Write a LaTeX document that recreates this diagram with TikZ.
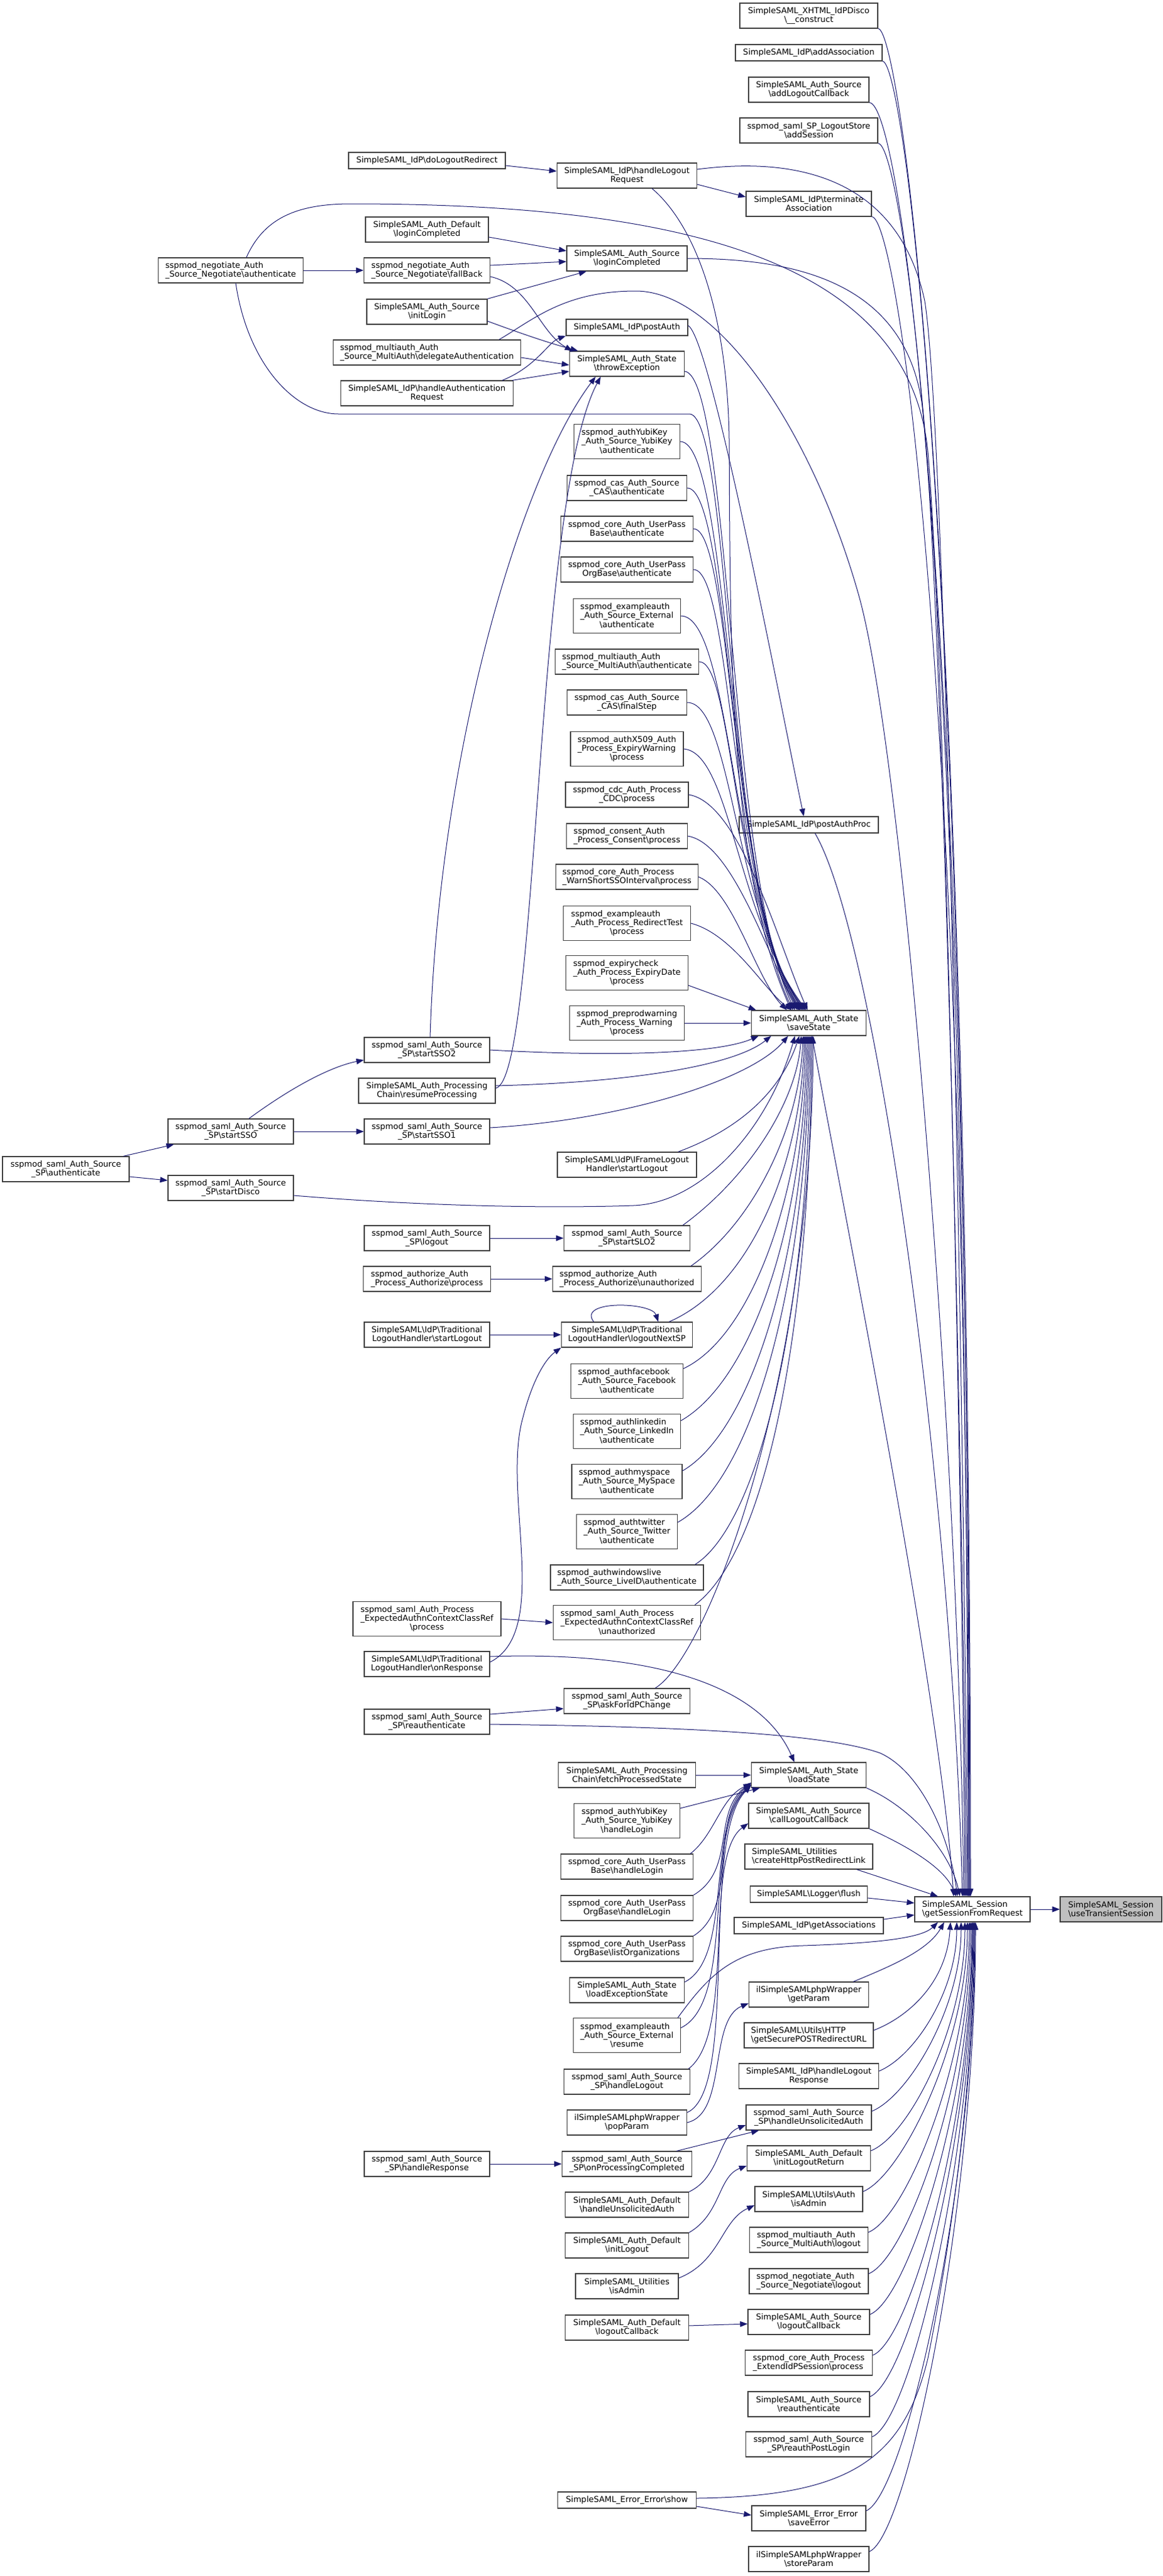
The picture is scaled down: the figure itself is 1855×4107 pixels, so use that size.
\documentclass[tikz,border=0pt]{standalone}
\usepackage{fontspec}
\newfontfamily\dejavu{DejaVu Sans}
\usetikzlibrary{arrows.meta,calc}

\definecolor{edgeblue}{HTML}{191970}
\definecolor{framegray}{HTML}{404040}
\definecolor{focusgray}{HTML}{BFBFBF}
\newcommand{\cgfont}{\dejavu\fontsize{13pt}{14pt}\selectfont}
\newcommand{\bsl}{\textbackslash}
\newcommand{\twol}[2]{\begin{tabular}{@{}l@{}}#1\\#2\end{tabular}}

\begin{document}
\begin{tikzpicture}[x=1pt, y=1pt,
  fn/.style={rectangle, draw=framegray, line width=1.2pt, fill=white, align=center, font=\cgfont, inner xsep=4pt, inner ysep=2pt, minimum height=40pt},
  fnl/.style={fn, align=left},
  one/.style={minimum height=26pt},
  three/.style={minimum height=55pt},
  arr/.style={-{Triangle[length=12pt, width=9pt]}, draw=edgeblue, line width=1pt}
]
\useasboundingbox (0,0) rectangle (1855,-4107);

% Target and its caller
\node[fnl, minimum width=184pt] (sessreq) at (1551,-3044) {SimpleSAML\_Session\\\bsl getSessionFromRequest};
\node[fnl, fill=focusgray, minimum width=162pt] (transient) at (1772,-3044) {SimpleSAML\_Session\\\bsl useTransientSession};
\draw[arr] (sessreq) -- (transient);

% Direct callers of getSessionFromRequest
\node[fn, minimum width=220pt] (idpdisco) at (1290,-25) {SimpleSAML\_XHTML\_IdPDisco\\\bsl\_\_construct};
\node[fn, one, minimum width=234pt] (addassoc) at (1290,-84) {SimpleSAML\_IdP\bsl addAssociation};
\node[fn, minimum width=192pt] (addlogoutcb) at (1290,-143) {SimpleSAML\_Auth\_Source\\\bsl addLogoutCallback};
\node[fn, minimum width=220pt] (addsession) at (1290,-208) {sspmod\_saml\_SP\_LogoutStore\\\bsl addSession};
\node[fn, minimum width=200pt] (terminate) at (1290,-325) {SimpleSAML\_IdP\bsl terminate\\Association};
\node[fn, one, minimum width=222pt] (postauthproc) at (1290,-1315) {SimpleSAML\_IdP\bsl postAuthProc};
\node[fn, minimum width=183pt] (savestate) at (1290,-1631) {SimpleSAML\_Auth\_State\\\bsl saveState};
\node[fn, minimum width=183pt] (loadstate) at (1290,-2830) {SimpleSAML\_Auth\_State\\\bsl loadState};
\node[fn, minimum width=192pt] (calllogoutcb) at (1290,-2895) {SimpleSAML\_Auth\_Source\\\bsl callLogoutCallback};
\node[fnl, minimum width=204pt] (postlink) at (1290,-2960) {SimpleSAML\_Utilities\\\bsl createHttpPostRedirectLink};
\node[fn, one, minimum width=187pt] (loggerflush) at (1290,-3020) {SimpleSAML\bsl Logger\bsl flush};
\node[fn, one, minimum width=238pt] (getassocs) at (1290,-3070) {SimpleSAML\_IdP\bsl getAssociations};
\node[fn, minimum width=191pt] (getparam) at (1290,-3180) {ilSimpleSAMLphpWrapper\\\bsl getParam};
\node[fnl, minimum width=206pt] (secureurl) at (1290,-3245) {SimpleSAML\bsl Utils\bsl HTTP\\\bsl getSecurePOSTRedirectURL};
\node[fn, minimum width=223pt] (logoutresp) at (1290,-3310) {SimpleSAML\_IdP\bsl handleLogout\\Response};
\node[fn, minimum width=200pt] (spunsolicited) at (1290,-3376) {sspmod\_saml\_Auth\_Source\\\_SP\bsl handleUnsolicitedAuth};
\node[fn, minimum width=197pt] (logoutreturn) at (1290,-3441) {SimpleSAML\_Auth\_Default\\\bsl initLogoutReturn};
\node[fn, minimum width=172pt] (authadmin) at (1290,-3506) {SimpleSAML\bsl Utils\bsl Auth\\\bsl isAdmin};
\node[fnl, minimum width=189pt] (multilogout) at (1290,-3571) {sspmod\_multiauth\_Auth\\\_Source\_MultiAuth\bsl logout};
\node[fnl, minimum width=190pt] (negologout) at (1290,-3637) {sspmod\_negotiate\_Auth\\\_Source\_Negotiate\bsl logout};
\node[fn, minimum width=194pt] (srclogoutcb) at (1290,-3702) {SimpleSAML\_Auth\_Source\\\bsl logoutCallback};
\node[fnl, minimum width=203pt] (extendidp) at (1290,-3767) {sspmod\_core\_Auth\_Process\\\_ExtendIdPSession\bsl process};
\node[fn, minimum width=194pt] (srcreauth) at (1290,-3833) {SimpleSAML\_Auth\_Source\\\bsl reauthenticate};
\node[fn, minimum width=201pt] (reauthpost) at (1290,-3897) {sspmod\_saml\_Auth\_Source\\\_SP\bsl reauthPostLogin};
\node[fn, minimum width=182pt] (saveerror) at (1290,-4015) {SimpleSAML\_Error\_Error\\\bsl saveError};
\node[fn, minimum width=192pt] (storeparam) at (1290,-4080) {ilSimpleSAMLphpWrapper\\\bsl storeParam};

% Third column
\node[fn, minimum width=223pt] (logoutreq) at (1000,-280) {SimpleSAML\_IdP\bsl handleLogout\\Request};
\node[fn, minimum width=192pt] (srcdone) at (1000,-412) {SimpleSAML\_Auth\_Source\\\bsl loginCompleted};
\node[fn, one, minimum width=194pt] (postauth) at (1000,-522) {SimpleSAML\_IdP\bsl postAuth};
\node[fn, minimum width=183pt] (throwexc) at (1000,-580) {SimpleSAML\_Auth\_State\\\bsl throwException};
\node[fn, three, minimum width=169pt] (yubiauth) at (1000,-704) {\twol{sspmod\_authYubiKey}{\_Auth\_Source\_YubiKey}\\\bsl authenticate};
\node[fn, minimum width=191pt] (casauth) at (1000,-778) {sspmod\_cas\_Auth\_Source\\\_CAS\bsl authenticate};
\node[fn, minimum width=211pt] (upbauth) at (1000,-843) {sspmod\_core\_Auth\_UserPass\\Base\bsl authenticate};
\node[fn, minimum width=211pt] (upobauth) at (1000,-908) {sspmod\_core\_Auth\_UserPass\\OrgBase\bsl authenticate};
\node[fn, three, minimum width=171pt] (extauth) at (1000,-982) {\twol{sspmod\_exampleauth}{\_Auth\_Source\_External}\\\bsl authenticate};
\node[fnl, minimum width=229pt] (multiauth) at (1000,-1055) {sspmod\_multiauth\_Auth\\\_Source\_MultiAuth\bsl authenticate};
\node[fn, minimum width=191pt] (casfinal) at (1000,-1120) {sspmod\_cas\_Auth\_Source\\\_CAS\bsl finalStep};
\node[fn, three, minimum width=180pt] (x509) at (1000,-1194) {\twol{sspmod\_authX509\_Auth}{\_Process\_ExpiryWarning}\\\bsl process};
\node[fn, minimum width=196pt] (cdc) at (1000,-1267) {sspmod\_cdc\_Auth\_Process\\\_CDC\bsl process};
\node[fnl, minimum width=193pt] (consent) at (1000,-1333) {sspmod\_consent\_Auth\\\_Process\_Consent\bsl process};
\node[fnl, minimum width=227pt] (warnshort) at (1000,-1398) {sspmod\_core\_Auth\_Process\\\_WarnShortSSOInterval\bsl process};
\node[fn, three, minimum width=203pt] (redirtest) at (1000,-1472) {\twol{sspmod\_exampleauth}{\_Auth\_Process\_RedirectTest}\\\bsl process};
\node[fn, three, minimum width=195pt] (expirydate) at (1000,-1551) {\twol{sspmod\_expirycheck}{\_Auth\_Process\_ExpiryDate}\\\bsl process};
\node[fn, three, minimum width=183pt] (preprod) at (1000,-1631) {\twol{sspmod\_preprodwarning}{\_Auth\_Process\_Warning}\\\bsl process};
\node[fn, minimum width=222pt] (iframe) at (1000,-1857) {SimpleSAML\bsl IdP\bsl IFrameLogout\\Handler\bsl startLogout};
\node[fn, minimum width=201pt] (startslo2) at (1000,-1974) {sspmod\_saml\_Auth\_Source\\\_SP\bsl startSLO2};
\node[fnl, minimum width=237pt] (authzunauth) at (1000,-2039) {sspmod\_authorize\_Auth\\\_Process\_Authorize\bsl unauthorized};
\node[fn, minimum width=209pt] (nextsp) at (1000,-2128) {SimpleSAML\bsl IdP\bsl Traditional\\LogoutHandler\bsl logoutNextSP};
\node[fn, three, minimum width=179pt] (facebook) at (1000,-2202) {\twol{sspmod\_authfacebook}{\_Auth\_Source\_Facebook}\\\bsl authenticate};
\node[fn, three, minimum width=171pt] (linkedin) at (1000,-2282) {\twol{sspmod\_authlinkedin}{\_Auth\_Source\_LinkedIn}\\\bsl authenticate};
\node[fn, three, minimum width=176pt] (myspace) at (1000,-2362) {\twol{sspmod\_authmyspace}{\_Auth\_Source\_MySpace}\\\bsl authenticate};
\node[fn, three, minimum width=161pt] (twitter) at (1000,-2442) {\twol{sspmod\_authtwitter}{\_Auth\_Source\_Twitter}\\\bsl authenticate};
\node[fnl, minimum width=244pt] (liveid) at (1000,-2515) {sspmod\_authwindowslive\\\_Auth\_Source\_LiveID\bsl authenticate};
\node[fn, three, minimum width=235pt] (ctxunauth) at (1000,-2587) {\twol{sspmod\_saml\_Auth\_Process}{\_ExpectedAuthnContextClassRef}\\\bsl unauthorized};
\node[fn, minimum width=201pt] (askidp) at (1000,-2712) {sspmod\_saml\_Auth\_Source\\\_SP\bsl askForIdPChange};
\node[fn, minimum width=219pt] (fetchstate) at (1000,-2830) {SimpleSAML\_Auth\_Processing\\Chain\bsl fetchProcessedState};
\node[fn, three, minimum width=169pt] (yubilogin) at (1000,-2903) {\twol{sspmod\_authYubiKey}{\_Auth\_Source\_YubiKey}\\\bsl handleLogin};
\node[fn, minimum width=211pt] (upblogin) at (1000,-2976) {sspmod\_core\_Auth\_UserPass\\Base\bsl handleLogin};
\node[fn, minimum width=211pt] (upoblogin) at (1000,-3042) {sspmod\_core\_Auth\_UserPass\\OrgBase\bsl handleLogin};
\node[fn, minimum width=211pt] (listorgs) at (1000,-3107) {sspmod\_core\_Auth\_UserPass\\OrgBase\bsl listOrganizations};
\node[fn, minimum width=183pt] (loadexc) at (1000,-3173) {SimpleSAML\_Auth\_State\\\bsl loadExceptionState};
\node[fn, three, minimum width=171pt] (extresume) at (1000,-3245) {\twol{sspmod\_exampleauth}{\_Auth\_Source\_External}\\\bsl resume};
\node[fn, minimum width=201pt] (sphandlelogout) at (1000,-3319) {sspmod\_saml\_Auth\_Source\\\_SP\bsl handleLogout};
\node[fn, minimum width=191pt] (popparam) at (1000,-3384) {ilSimpleSAMLphpWrapper\\\bsl popParam};
\node[fn, minimum width=207pt] (proccompleted) at (1000,-3450) {sspmod\_saml\_Auth\_Source\\\_SP\bsl onProcessingCompleted};
\node[fn, minimum width=197pt] (defunsolicited) at (1000,-3515) {SimpleSAML\_Auth\_Default\\\bsl handleUnsolicitedAuth};
\node[fn, minimum width=197pt] (definitlogout) at (1000,-3580) {SimpleSAML\_Auth\_Default\\\bsl initLogout};
\node[fn, minimum width=164pt] (utiladmin) at (1000,-3645) {SimpleSAML\_Utilities\\\bsl isAdmin};
\node[fn, minimum width=197pt] (deflogoutcb) at (1000,-3711) {SimpleSAML\_Auth\_Default\\\bsl logoutCallback};
\node[fn, one, minimum width=221pt] (errshow) at (1000,-3986) {SimpleSAML\_Error\_Error\bsl show};

% Second column
\node[fn, one, minimum width=250pt] (dologout) at (681,-256) {SimpleSAML\_IdP\bsl doLogoutRedirect};
\node[fn, minimum width=196pt] (defdone) at (681,-366) {SimpleSAML\_Auth\_Default\\\bsl loginCompleted};
\node[fnl, minimum width=201pt] (fallback) at (681,-431) {sspmod\_negotiate\_Auth\\\_Source\_Negotiate\bsl fallBack};
\node[fn, minimum width=192pt] (initlogin) at (681,-497) {SimpleSAML\_Auth\_Source\\\bsl initLogin};
\node[fnl, minimum width=299pt] (delegate) at (681,-562) {sspmod\_multiauth\_Auth\\\_Source\_MultiAuth\bsl delegateAuthentication};
\node[fn, minimum width=275pt] (authnreq) at (681,-627) {SimpleSAML\_IdP\bsl handleAuthentication\\Request};
\node[fn, minimum width=200pt] (startsso2) at (681,-1674) {sspmod\_saml\_Auth\_Source\\\_SP\bsl startSSO2};
\node[fn, minimum width=218pt] (resume) at (681,-1739) {SimpleSAML\_Auth\_Processing\\Chain\bsl resumeProcessing};
\node[fn, minimum width=200pt] (startsso1) at (681,-1804) {sspmod\_saml\_Auth\_Source\\\_SP\bsl startSSO1};
\node[fn, minimum width=200pt] (splogout) at (681,-1974) {sspmod\_saml\_Auth\_Source\\\_SP\bsl logout};
\node[fnl, minimum width=203pt] (authzproc) at (681,-2039) {sspmod\_authorize\_Auth\\\_Process\_Authorize\bsl process};
\node[fn, minimum width=200pt] (tradstart) at (681,-2128) {SimpleSAML\bsl IdP\bsl Traditional\\LogoutHandler\bsl startLogout};
\node[fn, three, minimum width=236pt] (ctxproc) at (681,-2581) {\twol{sspmod\_saml\_Auth\_Process}{\_ExpectedAuthnContextClassRef}\\\bsl process};
\node[fn, minimum width=200pt] (onresponse) at (681,-2653) {SimpleSAML\bsl IdP\bsl Traditional\\LogoutHandler\bsl onResponse};
\node[fn, minimum width=200pt] (spreauth) at (681,-2745) {sspmod\_saml\_Auth\_Source\\\_SP\bsl reauthenticate};
\node[fn, minimum width=200pt] (handleresp) at (681,-3450) {sspmod\_saml\_Auth\_Source\\\_SP\bsl handleResponse};

% First columns
\node[fnl, minimum width=231pt] (negoauth) at (368,-431) {sspmod\_negotiate\_Auth\\\_Source\_Negotiate\bsl authenticate};
\node[fn, minimum width=200pt] (startsso) at (368,-1804) {sspmod\_saml\_Auth\_Source\\\_SP\bsl startSSO};
\node[fn, minimum width=200pt] (startdisco) at (368,-1894) {sspmod\_saml\_Auth\_Source\\\_SP\bsl startDisco};
\node[fn, minimum width=202pt] (spauth) at (105,-1864) {sspmod\_saml\_Auth\_Source\\\_SP\bsl authenticate};

% Into getSessionFromRequest, from above
\draw[arr] (idpdisco.south east) .. controls (1435,-45) and (1548,-824) .. ([xshift=-3pt]sessreq.north);
\draw[arr] (addassoc.south east) .. controls (1442,-97) and (1546,-874) .. ([xshift=-5pt]sessreq.north);
\draw[arr] (addlogoutcb.south east) .. controls (1436,-163) and (1544,-924) .. ([xshift=-7pt]sessreq.north);
\draw[arr] (addsession.south east) .. controls (1440,-228) and (1547,-974) .. ([xshift=-4pt]sessreq.north);
\draw[arr] (terminate.south east) .. controls (1430,-345) and (1545,-1074) .. ([xshift=-6pt]sessreq.north);
\draw[arr] ([yshift=10pt]logoutreq.east) .. controls (1250,-252) and (1430,-270) .. (1475,-480) .. controls (1510,-700) and (1538,-2300) .. ([xshift=-8pt]sessreq.north);
\draw[arr] (srcdone.east) .. controls (1270,-412) and (1440,-450) .. (1470,-640) .. controls (1500,-850) and (1536,-2300) .. ([xshift=-10pt]sessreq.north);
\draw[arr] ([xshift=25pt]negoauth.north) .. controls (420,-350) and (470,-325) .. (560,-325) .. controls (1100,-325) and (1450,-420) .. (1480,-720) .. controls (1505,-1000) and (1534,-2300) .. ([xshift=-12pt]sessreq.north);
\draw[arr] ([xshift=-35pt]delegate.north east) .. controls (850,-510) and (900,-464) .. (1014,-464) .. controls (1150,-464) and (1300,-700) .. (1370,-950) .. controls (1440,-1200) and (1530,-2300) .. ([xshift=-14pt]sessreq.north);
\draw[arr] ([xshift=10pt]postauthproc.south) .. controls (1400,-1500) and (1520,-2400) .. ([xshift=-16pt]sessreq.north);
\draw[arr] ([xshift=5pt]savestate.south) .. controls (1340,-1900) and (1500,-2700) .. ([xshift=-30pt]sessreq.north);
\draw[arr] ([yshift=-4pt]spreauth.east) .. controls (1000,-2752) and (1300,-2758) .. (1404,-2795) .. controls (1470,-2825) and (1515,-2930) .. ([xshift=-24pt]sessreq.north);
\draw[arr] (loadstate.south east) .. controls (1450,-2880) and (1515,-2950) .. ([xshift=-20pt]sessreq.north);
\draw[arr] (calllogoutcb.south east) .. controls (1440,-2940) and (1505,-2975) .. ([xshift=-26pt]sessreq.north);
\draw[arr] ([xshift=-26pt]postlink.south east) -- ([xshift=-55pt]sessreq.north);
\draw[arr] ([yshift=-6pt]loggerflush.east) -- ([yshift=10pt]sessreq.west);
\draw[arr] ([yshift=10pt]getassocs.east) -- ([yshift=-9pt]sessreq.west);

% Into getSessionFromRequest, from below
\draw[arr] ([xshift=-5pt]extresume.north east) .. controls (1130,-3150) and (1170,-3105) .. (1280,-3102) .. controls (1400,-3098) and (1470,-3090) .. ([xshift=-55pt]sessreq.south);
\draw[arr] ([xshift=-25pt]getparam.north east) .. controls (1420,-3135) and (1480,-3110) .. ([xshift=-45pt]sessreq.south);
\draw[arr] ([yshift=8pt]secureurl.east) .. controls (1450,-3215) and (1510,-3160) .. ([xshift=-35pt]sessreq.south);
\draw[arr] ([yshift=8pt]logoutresp.east) .. controls (1461,-3277) and (1526,-3172) .. ([xshift=-25pt]sessreq.south);
\draw[arr] ([yshift=10pt]spunsolicited.east) .. controls (1450,-3341) and (1533,-3200) .. ([xshift=-18pt]sessreq.south);
\draw[arr] ([yshift=12pt]logoutreturn.east) .. controls (1451,-3404) and (1539,-3229) .. ([xshift=-12pt]sessreq.south);
\draw[arr] ([yshift=12pt]authadmin.east) .. controls (1438,-3469) and (1543,-3258) .. ([xshift=-8pt]sessreq.south);
\draw[arr] ([yshift=12pt]multilogout.east) .. controls (1446,-3534) and (1546,-3287) .. ([xshift=-5pt]sessreq.south);
\draw[arr] ([yshift=12pt]negologout.east) .. controls (1447,-3600) and (1548,-3317) .. ([xshift=-3pt]sessreq.south);
\draw[arr] ([yshift=12pt]srclogoutcb.east) .. controls (1449,-3665) and (1550,-3346) .. ([xshift=-1pt]sessreq.south);
\draw[arr] ([yshift=12pt]extendidp.east) .. controls (1453,-3730) and (1551,-3376) .. (sessreq.south);
\draw[arr] ([yshift=12pt]srcreauth.east) .. controls (1449,-3796) and (1552,-3405) .. ([xshift=1pt]sessreq.south);
\draw[arr] ([yshift=12pt]reauthpost.east) .. controls (1453,-3860) and (1553,-3434) .. ([xshift=2pt]sessreq.south);
\draw[arr] ([yshift=3pt]errshow.east) .. controls (1350,-3980) and (1440,-3925) .. (1480,-3760) .. controls (1520,-3560) and (1554,-3300) .. ([xshift=3pt]sessreq.south);
\draw[arr] ([yshift=12pt]saveerror.east) .. controls (1443,-3978) and (1555,-3487) .. ([xshift=4pt]sessreq.south);
\draw[arr] ([yshift=12pt]storeparam.east) .. controls (1448,-4043) and (1556,-3516) .. ([xshift=5pt]sessreq.south);

% Upper callers of saveState
\draw[arr] ([xshift=40pt]logoutreq.south) .. controls (1110,-360) and (1160,-500) .. (1163,-700) .. controls (1165,-1000) and (1160,-1380) .. ([xshift=-28pt]savestate.north);
\draw[arr] ([yshift=-12pt]throwexc.east) .. controls (1165,-600) and (1163,-1400) .. ([xshift=-22pt]savestate.north);
\draw[arr] ([xshift=8pt]negoauth.south) .. controls (395,-580) and (470,-660) .. (540,-660) -- (1100,-660) .. controls (1165,-665) and (1160,-1400) .. ([xshift=-25pt]savestate.north);
\draw[arr] (yubiauth.east) .. controls (1165,-704) and (1162,-1420) .. ([xshift=-18pt]savestate.north);
\draw[arr] (casauth.east) .. controls (1165,-778) and (1163,-1420) .. ([xshift=-16pt]savestate.north);
\draw[arr] (upbauth.east) .. controls (1168,-843) and (1164,-1420) .. ([xshift=-14pt]savestate.north);
\draw[arr] (upobauth.east) .. controls (1168,-908) and (1165,-1430) .. ([xshift=-12pt]savestate.north);
\draw[arr] (extauth.east) .. controls (1166,-982) and (1166,-1430) .. ([xshift=-10pt]savestate.north);
\draw[arr] (multiauth.east) .. controls (1170,-1055) and (1167,-1440) .. ([xshift=-8pt]savestate.north);
\draw[arr] (casfinal.east) .. controls (1168,-1120) and (1170,-1450) .. ([xshift=-6pt]savestate.north);
\draw[arr] (x509.east) .. controls (1165,-1200) and (1175,-1460) .. ([xshift=-4pt]savestate.north);
\draw[arr] (cdc.east) .. controls (1180,-1280) and (1240,-1500) .. ([xshift=-2pt]savestate.north);
\draw[arr] (consent.east) .. controls (1170,-1345) and (1225,-1530) .. ([xshift=-15pt]savestate.north);
\draw[arr] (warnshort.east) .. controls (1170,-1420) and (1205,-1560) .. ([xshift=-35pt]savestate.north);
\draw[arr] (redirtest.east) .. controls (1170,-1490) and (1220,-1580) .. ([xshift=-27pt]savestate.north);
\draw[arr] ([yshift=-20pt]expirydate.east) -- ([xshift=-84pt]savestate.north);
\draw[arr] (preprod.east) -- (savestate.west);

% Lower callers of saveState
\draw[arr] (startsso2.east) .. controls (1000,-1686) and (1150,-1678) .. ([xshift=-80pt]savestate.south);
\draw[arr] ([yshift=8pt]resume.east) .. controls (1000,-1726) and (1170,-1700) .. ([xshift=-60pt]savestate.south);
\draw[arr] ([yshift=6pt]startsso1.east) .. controls (1000,-1785) and (1200,-1720) .. ([xshift=-33pt]savestate.south);
\draw[arr] ([yshift=-12pt]startdisco.east) .. controls (700,-1925) and (900,-1926) .. (1010,-1922) .. controls (1120,-1918) and (1225,-1800) .. ([xshift=-22pt]savestate.south);
\draw[arr] ([xshift=-30pt]iframe.north east) .. controls (1180,-1800) and (1245,-1740) .. ([xshift=-15pt]savestate.south);
\draw[arr] ([xshift=-12pt]startslo2.north east) .. controls (1190,-1880) and (1270,-1760) .. ([xshift=-12pt]savestate.south);
\draw[arr] ([xshift=-17pt]authzunauth.north east) .. controls (1200,-1950) and (1275,-1800) .. ([xshift=-9pt]savestate.south);
\draw[arr] ([xshift=-38pt]nextsp.north east) .. controls (1200,-2050) and (1278,-1850) .. ([xshift=-7pt]savestate.south);
\draw[arr] ([yshift=20pt]facebook.east) .. controls (1200,-2130) and (1280,-1900) .. ([xshift=-5pt]savestate.south);
\draw[arr] ([yshift=17pt]linkedin.east) .. controls (1200,-2200) and (1283,-1950) .. ([xshift=-3pt]savestate.south);
\draw[arr] ([yshift=17pt]myspace.east) .. controls (1200,-2280) and (1285,-2000) .. ([xshift=-1pt]savestate.south);
\draw[arr] ([yshift=15pt]twitter.east) .. controls (1200,-2360) and (1287,-2050) .. ([xshift=1pt]savestate.south);
\draw[arr] ([xshift=-14pt]liveid.north east) .. controls (1210,-2430) and (1290,-2100) .. ([xshift=3pt]savestate.south);
\draw[arr] ([xshift=-10pt]ctxunauth.north east) .. controls (1215,-2480) and (1292,-2150) .. ([xshift=5pt]savestate.south);
\draw[arr] ([xshift=45pt]askidp.north) .. controls (1130,-2640) and (1295,-2200) .. ([xshift=7pt]savestate.south);

% Top left calls
\draw[arr] ([yshift=-8pt]dologout.east) -- ([yshift=7pt]logoutreq.west);
\draw[arr] ([yshift=-14pt]logoutreq.east) -- ([yshift=11pt]terminate.west);
\draw[arr] ([yshift=-12pt]defdone.east) -- ([yshift=12pt]srcdone.west);
\draw[arr] ([yshift=8pt]fallback.east) -- ([yshift=-5pt]srcdone.west);
\draw[arr] (initlogin.north east) -- ([xshift=32pt]srcdone.south west);
\draw[arr] (negoauth) -- (fallback);
\draw[arr] ([yshift=-10pt]fallback.east) .. controls (845,-455) and (860,-530) .. ([xshift=5pt]throwexc.north west);
\draw[arr] ([yshift=-15pt]initlogin.east) .. controls (840,-535) and (880,-548) .. ([xshift=14pt]throwexc.north west);
\draw[arr] ([yshift=-8pt]delegate.east) -- ([yshift=-2pt]throwexc.west);
\draw[arr] ([xshift=-2pt]authnreq.north east) -- ([yshift=-12pt]throwexc.west);
\draw[arr] ([xshift=-18pt]authnreq.north east) .. controls (855,-585) and (875,-545) .. (postauth.south west);
\draw[arr] ([xshift=5pt]startsso2.north) .. controls (700,-1200) and (830,-760) .. ([xshift=-50pt]throwexc.south);
\draw[arr] ([yshift=4pt]resume.east) .. controls (860,-1720) and (852,-800) .. ([xshift=-42pt]throwexc.south);
\draw[arr] ([yshift=3pt]postauth.east) .. controls (1135,-540) and (1250,-1150) .. ([xshift=-8pt]postauthproc.north);

% SP entry points
\draw[arr] ([xshift=-10pt]spauth.north east) -- ([xshift=10pt]startsso.south west);
\draw[arr] ([yshift=-12pt]spauth.east) -- ([yshift=12pt]startdisco.west);
\draw[arr] ([xshift=29pt]startsso.north) .. controls (470,-1730) and (530,-1700) .. ([yshift=-16pt]startsso2.west);
\draw[arr] (startsso) -- (startsso1);

% Logout and authorization calls
\draw[arr] (splogout) -- (startslo2);
\draw[arr] (authzproc) -- (authzunauth);
\draw[arr] (tradstart) -- (nextsp);
\draw[arr] ([xshift=-53pt]nextsp.north) .. controls (920,-2072) and (1040,-2076) .. ([xshift=50pt]nextsp.north);
\draw[arr] ([yshift=3pt]onresponse.east) .. controls (880,-2600) and (800,-2380) .. (834,-2260) .. controls (848,-2205) and (868,-2168) .. (nextsp.south west);
\draw[arr] ([yshift=12pt]onresponse.east) .. controls (1050,-2632) and (1215,-2690) .. ([xshift=-23pt]loadstate.north);
\draw[arr] (ctxproc.east) -- (ctxunauth.west);
\draw[arr] ([yshift=12pt]spreauth.east) -- ([yshift=-12pt]askidp.west);

% Callers of loadState and neighbours
\draw[arr] (fetchstate) -- (loadstate);
\draw[arr] ([yshift=20pt]yubilogin.east) -- ([xshift=14pt]loadstate.south west);
\draw[arr] ([xshift=-5pt]upblogin.north east) .. controls (1140,-2925) and (1150,-2865) .. ([yshift=-14pt]loadstate.west);
\draw[arr] (upoblogin.north east) .. controls (1175,-2980) and (1135,-2890) .. ([yshift=-12pt]loadstate.west);
\draw[arr] (listorgs.north east) .. controls (1180,-3040) and (1130,-2900) .. ([yshift=-13pt]loadstate.west);
\draw[arr] ([yshift=13pt]loadexc.east) .. controls (1170,-3120) and (1125,-2910) .. ([yshift=-15pt]loadstate.west);
\draw[arr] ([yshift=12pt]extresume.east) .. controls (1175,-3190) and (1120,-2920) .. ([yshift=-16pt]loadstate.west);
\draw[arr] ([yshift=16pt]popparam.east) .. controls (1180,-3330) and (1115,-2930) .. ([yshift=-17pt]loadstate.west);
\draw[arr] ([xshift=-3pt]sphandlelogout.north east) .. controls (1175,-3240) and (1120,-2960) .. ([yshift=-12pt]calllogoutcb.west);
\draw[arr] (popparam.east) .. controls (1160,-3370) and (1130,-3220) .. ([yshift=-14pt]getparam.west);

% Bottom group
\draw[arr] (handleresp) -- (proccompleted);
\draw[arr] ([xshift=-25pt]proccompleted.north east) -- ([xshift=21pt]spunsolicited.south west);
\draw[arr] (defunsolicited.north east) .. controls (1150,-3470) and (1145,-3405) .. ([yshift=-12pt]spunsolicited.west);
\draw[arr] (definitlogout.north east) .. controls (1150,-3530) and (1145,-3470) .. ([yshift=-12pt]logoutreturn.west);
\draw[arr] ([yshift=13pt]utiladmin.east) .. controls (1150,-3605) and (1150,-3540) .. ([yshift=-10pt]authadmin.west);
\draw[arr] (deflogoutcb) -- (srclogoutcb);
\draw[arr] ([yshift=-10pt]errshow.east) -- ([yshift=5pt]saveerror.west);

\end{tikzpicture}
\end{document}
